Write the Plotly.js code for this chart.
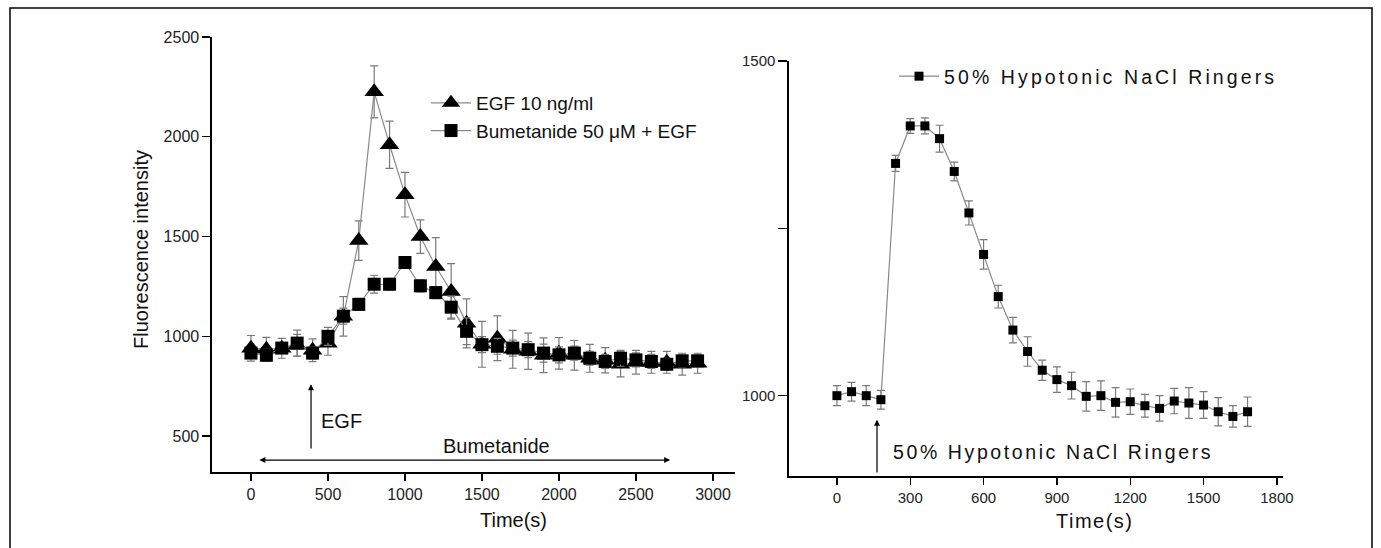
<!DOCTYPE html>
<html>
<head>
<meta charset="utf-8">
<script src="https://cdn.plot.ly/plotly-3.0.1.min.js"></script>
<style>html,body{margin:0;padding:0;background:#fff;}#chart{width:1381px;height:548px;}</style>
</head>
<body>
<div id="chart"></div>
<script>
// Left panel: EGF experiment
const timeLeft = [0,100,200,300,400,500,600,700,800,900,1000,1100,1200,1300,1400,1500,1600,1700,1800,1900,2000,2100,2200,2300,2400,2500,2600,2700,2800,2900];
const egfValues = [940,935,940,955,930,965,1100,1480,2225,1960,1710,1500,1350,1225,1065,960,990,935,925,905,915,905,890,880,860,870,870,870,860,865];
const egfErrors = [64,60,50,55,57,60,99,99,130,118,112,84,145,139,123,115,112,95,91,87,79,74,70,63,63,60,55,55,55,50];
const bumValues = [916,905,941,966,916,1000,1101,1160,1261,1261,1370,1253,1219,1146,1025,958,950,941,933,916,907,916,890,874,890,882,874,860,877,877];
const bumErrors = [25,30,25,65,30,45,40,30,45,30,30,30,30,55,67,40,40,40,40,45,40,35,35,35,40,35,35,30,30,30];

// Right panel: hypotonic experiment
const timeRight = [0,60,120,180,240,300,360,420,480,540,600,660,720,780,840,900,960,1020,1080,1140,1200,1260,1320,1380,1440,1500,1560,1620,1680];
const hypoValues = [1000,1006,1000,994,1347,1403,1403,1384,1335,1273,1211,1148,1098,1066,1038,1024,1015,999,1000,990,991,985,981,992,989,986,976,969,976];
const hypoErrors = [15,14,15,14,12,11,12,20,14,18,22,17,19,22,15,19,20,22,22,22,19,17,19,19,23,20,21,16,22];

const leftXTicks = [0,500,1000,1500,2000,2500,3000];
const leftYTicks = [500,1000,1500,2000,2500];
const rightXTicks = [0,300,600,900,1200,1500,1800];
const rightYTicks = [1000,1250,1500];
const rightYLabels = ['1000','','1500'];

const FONT = 'Arial, "Liberation Sans", sans-serif';
const W = 1381, H = 548;
const px = v => v / W;
const py = v => 1 - v / H;

const errStyle = arr => ({type:'data', array: arr, visible:true, color:'#7a7a7a', thickness:1.2, width:4});

const traces = [
  {x: timeLeft, y: egfValues, error_y: errStyle(egfErrors), mode:'lines+markers', name:'EGF 10 ng/ml',
   line:{color:'#8a8a8a', width:1.2}, marker:{symbol:'triangle-up', size:17, color:'#000'},
   xaxis:'x', yaxis:'y', legend:'legend'},
  {x: timeLeft, y: bumValues, error_y: errStyle(bumErrors), mode:'lines+markers', name:'Bumetanide 50 \u03bcM + EGF',
   line:{color:'#8a8a8a', width:1.2}, marker:{symbol:'square', size:13, color:'#000'},
   xaxis:'x', yaxis:'y', legend:'legend'},
  {x: timeRight, y: hypoValues, error_y: errStyle(hypoErrors), mode:'lines+markers',
   name:'<span style="letter-spacing:3.1px">50% Hypotonic NaCl Ringers</span>',
   line:{color:'#8a8a8a', width:1.2}, marker:{symbol:'square', size:9, color:'#000'},
   xaxis:'x2', yaxis:'y2', legend:'legend2'}
];

const axisCommon = {showline:true, linecolor:'#000', linewidth:1.6, ticks:'outside', ticklen:7, tickwidth:1.4,
  tickcolor:'#000', showgrid:false, zeroline:false, tickfont:{family:FONT, size:16, color:'#222'}};

const layout = {
  width: W, height: H,
  margin:{l:0, r:0, t:0, b:0},
  paper_bgcolor:'#fff', plot_bgcolor:'rgba(0,0,0,0)',
  showlegend:true,
  xaxis: Object.assign({}, axisCommon, {domain:[px(212), px(735)], range:[-253, 3143], tickmode:'array', tickvals:leftXTicks, anchor:'y'}),
  yaxis: Object.assign({}, axisCommon, {domain:[py(472), py(37)], range:[320, 2500], tickmode:'array', tickvals:leftYTicks, anchor:'x', ticklen:8}),
  xaxis2: Object.assign({}, axisCommon, {domain:[px(789), px(1283)], range:[-196, 1825], tickmode:'array', tickvals:rightXTicks, anchor:'y2',
    tickfont:{family:FONT, size:15, color:'#222'}}),
  yaxis2: Object.assign({}, axisCommon, {domain:[py(476), py(61)], range:[880, 1500], tickmode:'array', tickvals:rightYTicks, ticktext:rightYLabels, anchor:'x2',
    tickfont:{family:FONT, size:15, color:'#222'}, ticklen:9}),
  legend:{x:px(426), y:py(84), xanchor:'left', yanchor:'top', bgcolor:'rgba(0,0,0,0)', borderwidth:0,
    font:{family:FONT, size:19, color:'#111'}, itemwidth:40, tracegroupgap:0},
  legend2:{x:px(894), y:py(57), xanchor:'left', yanchor:'top', bgcolor:'rgba(0,0,0,0)', borderwidth:0,
    font:{family:FONT, size:19.5, color:'#111'}, itemwidth:40},
  shapes:[
    {type:'rect', xref:'paper', yref:'paper', x0:px(10), x1:px(1372), y0:-0.05, y1:py(8), line:{color:'#000', width:1.5}, fillcolor:'rgba(0,0,0,0)'}
  ],
  annotations:[
    // axis titles
    {xref:'paper', yref:'paper', x:px(141), y:py(250), xanchor:'center', yanchor:'middle', text:'Fluorescence intensity', textangle:-90, showarrow:false,
     font:{family:FONT, size:20, color:'#111'}},
    {xref:'paper', yref:'paper', x:px(513), y:py(520), xanchor:'center', yanchor:'middle', text:'Time(s)', showarrow:false, font:{family:FONT, size:20, color:'#111'}},
    {xref:'paper', yref:'paper', x:px(1095), y:py(521), xanchor:'center', yanchor:'middle', text:'<span style="letter-spacing:1.5px">Time(s)</span>', showarrow:false, font:{family:FONT, size:20, color:'#111'}},
    // EGF arrow
    {xref:'x', yref:'y', axref:'x', ayref:'y', x:390, y:760, ax:390, ay:430, text:'', showarrow:true,
     arrowhead:2, arrowsize:1, arrowwidth:1.2, arrowcolor:'#000'},
    {xref:'x', yref:'y', x:440, y:575, text:'EGF', xanchor:'left', showarrow:false, font:{family:FONT, size:20, color:'#111'}},
    // Bumetanide double arrow
    {xref:'x', yref:'y', axref:'x', ayref:'y', x:2722, y:380, ax:45, ay:380, text:'', showarrow:true,
     arrowhead:2, startarrowhead:2, arrowside:'end+start', arrowsize:1, arrowwidth:1.2, arrowcolor:'#000'},
    {xref:'x', yref:'y', x:1594, y:450, text:'Bumetanide', showarrow:false, font:{family:FONT, size:20, color:'#111'}},
    // Hypotonic arrow
    {xref:'x2', yref:'y2', axref:'x2', ayref:'y2', x:164, y:964, ax:164, ay:883, text:'', showarrow:true,
     arrowhead:2, arrowsize:1, arrowwidth:1.2, arrowcolor:'#000'},
    {xref:'x2', yref:'y2', x:220, y:916, xanchor:'left', showarrow:false,
     text:'<span style="letter-spacing:2.6px">50% Hypotonic NaCl Ringers</span>', font:{family:FONT, size:19.5, color:'#111'}}
  ]
};

Plotly.newPlot('chart', traces, layout, {displayModeBar:false, staticPlot:true});
</script>
</body>
</html>
